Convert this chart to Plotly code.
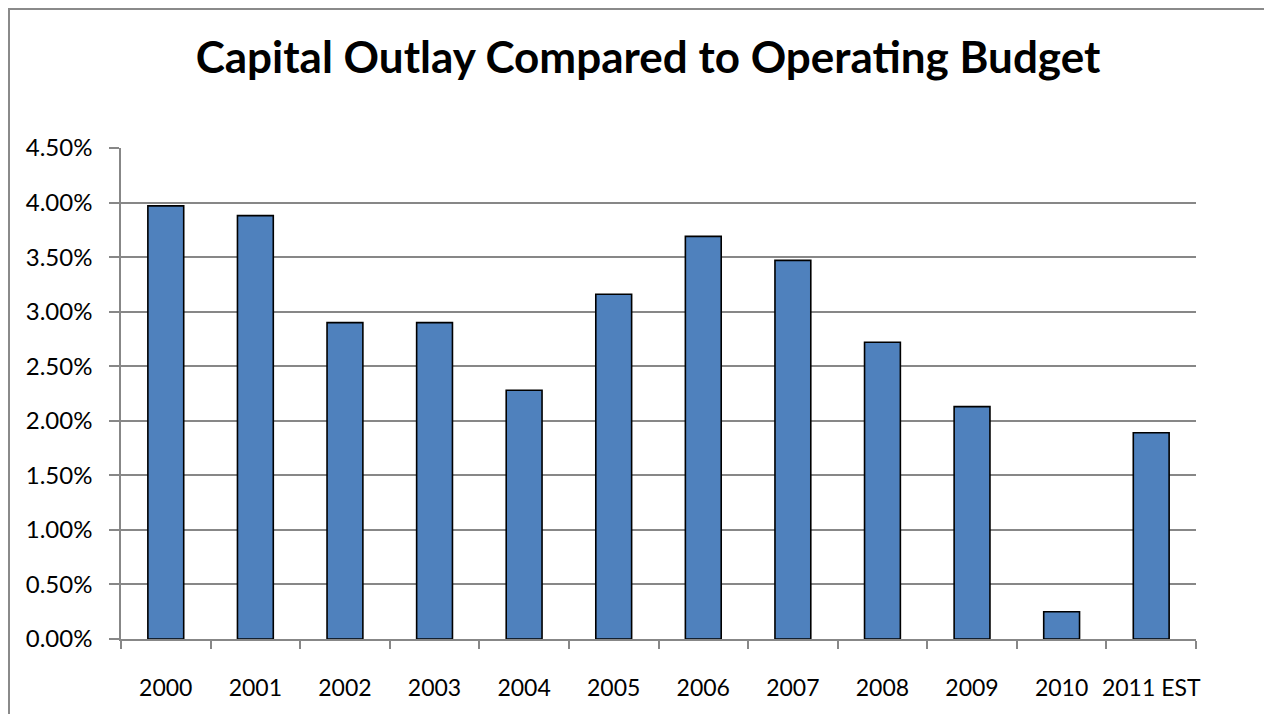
import plotly.graph_objects as go

categories = ["2000", "2001", "2002", "2003", "2004", "2005", "2006",
              "2007", "2008", "2009", "2010", "2011 EST"]
values = [0.0397, 0.0388, 0.0290, 0.0290, 0.0228, 0.0316, 0.0369,
          0.0347, 0.0272, 0.0213, 0.0025, 0.0189]
title_text = "Capital Outlay Compared to Operating Budget"

W, H = 1272, 714
OFF = 8  # page body margin compensation
L, R, T, B = 121 - OFF, 1196 - OFF, 148 - OFF, 639 - OFF

def px_x(px):
    return (px - L) / (R - L)

def px_y(py):
    return (B - py) / (B - T)

grid = "#878787"

fig = go.Figure(go.Bar(
    x=categories, y=values,
    marker=dict(color="#4F81BD", line=dict(color="black", width=1.6)),
))

fig.update_layout(
    width=W, height=H,
    margin=dict(l=L, r=W - R, t=T, b=H - B, pad=0, autoexpand=False),
    paper_bgcolor="white", plot_bgcolor="white",
    bargap=0.6,
    showlegend=False,
    font=dict(family="Lato", color="black"),
    title=dict(text="<b>" + title_text + "</b>",
               font=dict(family="Lato", size=44, color="black"),
               x=(648 - OFF) / W, xref="container", xanchor="center",
               y=1 - 34 / H, yref="container", yanchor="top",
               automargin=False),
    shapes=[dict(type="rect", xref="paper", yref="paper",
                 x0=px_x(1), x1=px_x(1400), y0=px_y(900), y1=px_y(1),
                 line=dict(color="#8a8a8a", width=2), fillcolor="rgba(0,0,0,0)",
                 layer="below")],
)

fig.update_xaxes(
    type="category", automargin=False, tickangle=0,
    showline=True, linecolor=grid, linewidth=2,
    ticks="outside", tickson="boundaries", ticklen=8, tickcolor=grid, tickwidth=1.5,
    tickfont=dict(family="Lato", size=23, color="black"),
    ticklabelstandoff=27,
    showgrid=False,
)
fig.update_yaxes(
    range=[0, 0.045], dtick=0.005, tickformat=".2%", automargin=False,
    showline=True, linecolor=grid, linewidth=1.5,
    ticks="outside", ticklen=10, tickcolor=grid, tickwidth=1.5,
    showgrid=True, gridcolor=grid, gridwidth=1.5,
    tickfont=dict(family="Lato", size=24, color="black"),
    ticklabelstandoff=12,
    zeroline=False,
)

fig.write_html("out.html")
